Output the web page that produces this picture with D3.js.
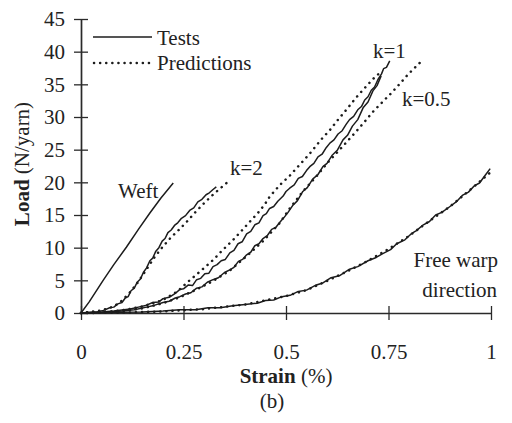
<!DOCTYPE html>
<html>
<head>
<meta charset="utf-8">
<script src="https://cdn.jsdelivr.net/npm/d3@7/dist/d3.min.js"></script>
<style>
  html, body { margin: 0; padding: 0; background: #fff; }
  svg { display: block; }
  text { font-family: "Liberation Serif", "Times New Roman", serif; fill: #222; }
</style>
</head>
<body>
<svg id="chart" width="512" height="423"></svg>
<script>
// Tick labels
const xTicks = [0, 0.25, 0.5, 0.75, 1];
const xTickLabels = ["0", "0.25", "0.5", "0.75", "1"];
const yTicks = [0, 5, 10, 15, 20, 25, 30, 35, 40, 45];

// Series: [strain (%), load (N/yarn)]
const weftTest = [[0,0],[0.02,1.7],[0.054,5.0],[0.08,7.4],[0.111,10.1],[0.14,12.8],[0.168,15.3],[0.195,17.6],[0.225,19.9]];

const k2Test = [[0,0],[0.02,0.1],[0.04,0.2],[0.055,0.4],[0.07,0.8],[0.08,0.9],[0.09,1.4],[0.1,1.6],[0.108,2.3],[0.115,2.5],[0.122,3.4],[0.13,3.8],[0.137,4.7],[0.145,5.2],[0.152,6.2],[0.16,6.9],[0.168,8.0],[0.175,8.4],[0.182,9.4],[0.19,10.0],[0.198,11.0],[0.205,11.4],[0.212,12.3],[0.22,12.7],[0.228,13.4],[0.236,13.8],[0.245,14.5],[0.255,14.9],[0.265,15.7],[0.275,16.1],[0.285,17.0],[0.295,17.4],[0.305,18.1],[0.313,18.4],[0.322,18.9],[0.33,19.3]];
const k2Pred = [[0,0],[0.05,0.4],[0.08,1.0],[0.1,1.9],[0.12,3.2],[0.14,4.8],[0.16,6.7],[0.18,8.6],[0.2,10.2],[0.22,11.6],[0.24,12.8],[0.26,14.1],[0.28,15.5],[0.3,16.8],[0.32,18.0],[0.34,19.1],[0.357,20.0]];

const k1Test = [[0,0],[0.02,0.05],[0.05,0.15],[0.08,0.3],[0.1,0.45],[0.12,0.6],[0.14,0.9],[0.16,1.2],[0.175,1.6],[0.19,1.7],[0.2,2.2],[0.215,2.4],[0.23,3.0],[0.241,3.6],[0.25,3.7],[0.262,4.3],[0.272,4.2],[0.282,5.1],[0.292,5.3],[0.302,6.0],[0.312,6.1],[0.322,7.1],[0.332,7.4],[0.342,8.0],[0.352,8.2],[0.363,9.2],[0.373,9.6],[0.383,10.6],[0.393,10.9],[0.404,12.1],[0.414,12.5],[0.424,13.5],[0.434,13.8],[0.444,14.9],[0.452,15.2],[0.46,16.0],[0.47,16.3],[0.48,17.1],[0.493,17.9],[0.5,18.6],[0.509,19.1],[0.52,19.6],[0.53,20.6],[0.54,20.9],[0.55,21.8],[0.558,22.4],[0.568,22.9],[0.578,23.9],[0.588,24.3],[0.598,25.3],[0.607,26.0],[0.617,26.5],[0.627,27.4],[0.637,27.9],[0.647,28.9],[0.655,29.6],[0.665,30.1],[0.675,31.1],[0.684,31.6],[0.692,32.6],[0.7,33.1],[0.708,34.1],[0.716,34.6],[0.724,35.7],[0.733,36.6],[0.738,37.4],[0.745,37.6],[0.753,38.6]];
const k1Pred = [[0,0],[0.05,0.1],[0.1,0.4],[0.15,1.0],[0.2,2.0],[0.235,3.3],[0.265,5.0],[0.295,6.6],[0.322,8.1],[0.345,9.6],[0.371,11.2],[0.392,12.6],[0.412,14.0],[0.43,15.2],[0.448,16.6],[0.46,17.8],[0.485,19.6],[0.509,21.0],[0.535,22.8],[0.558,24.4],[0.585,26.5],[0.607,28.0],[0.627,29.6],[0.647,31.1],[0.67,32.9],[0.69,34.3],[0.712,35.8],[0.733,37.0]];

const k05Test = [[0,0],[0.03,0.05],[0.06,0.1],[0.1,0.3],[0.13,0.5],[0.16,0.9],[0.18,1.2],[0.2,1.6],[0.215,1.8],[0.23,2.3],[0.241,2.5],[0.255,2.9],[0.268,3.1],[0.282,3.8],[0.295,4.0],[0.308,4.7],[0.322,5.1],[0.335,5.4],[0.35,6.2],[0.363,6.6],[0.373,7.0],[0.384,7.9],[0.394,8.2],[0.404,8.9],[0.414,9.3],[0.424,10.3],[0.434,10.6],[0.444,11.4],[0.455,11.9],[0.465,12.8],[0.475,13.1],[0.485,13.9],[0.495,14.6],[0.505,15.4],[0.517,16.5],[0.528,17.2],[0.541,18.6],[0.552,19.2],[0.565,20.5],[0.578,21.2],[0.59,22.4],[0.6,22.9],[0.612,24.1],[0.625,24.9],[0.639,26.5],[0.65,27.2],[0.662,28.6],[0.675,29.6],[0.688,31.4],[0.7,32.3],[0.712,34.0],[0.722,34.8],[0.732,36.3]];
const k05Pred = [[0,0],[0.05,0.1],[0.1,0.3],[0.15,0.7],[0.2,1.5],[0.241,2.4],[0.282,3.6],[0.322,4.9],[0.363,6.5],[0.404,8.7],[0.444,11.0],[0.485,13.8],[0.509,16.0],[0.541,18.6],[0.574,20.9],[0.6,22.9],[0.631,25.0],[0.66,27.0],[0.688,29.0],[0.712,30.8],[0.74,32.6],[0.753,33.4],[0.775,34.9],[0.793,36.2],[0.81,37.3],[0.828,38.4]];

const freeWarpTest = [[0,0],[0.05,0.05],[0.1,0.1],[0.15,0.15],[0.2,0.3],[0.241,0.5],[0.28,0.5],[0.31,0.8],[0.34,0.8],[0.37,1.1],[0.4,1.3],[0.43,1.5],[0.45,1.9],[0.47,2.0],[0.49,2.5],[0.51,2.7],[0.53,3.3],[0.55,3.5],[0.574,4.3],[0.59,4.6],[0.61,5.4],[0.63,5.7],[0.655,6.7],[0.675,7.1],[0.7,8.0],[0.72,8.5],[0.736,9.1],[0.755,9.7],[0.77,10.6],[0.79,11.2],[0.805,12.1],[0.818,12.6],[0.835,13.5],[0.85,14.0],[0.865,15.0],[0.88,15.4],[0.9,16.3],[0.915,17.0],[0.93,18.0],[0.945,18.5],[0.96,19.5],[0.972,19.9],[0.985,21.0],[0.998,22.1]];
const freeWarpPred = [[0,0],[0.1,0.05],[0.2,0.25],[0.3,0.6],[0.4,1.3],[0.5,2.6],[0.55,3.5],[0.6,4.9],[0.65,6.4],[0.7,8.0],[0.75,9.8],[0.8,11.8],[0.85,14.1],[0.9,16.3],[0.95,18.9],[1.0,21.6]];

const testSeries = [weftTest, k2Test, k1Test, k05Test, freeWarpTest];
const predSeries = [k2Pred, k1Pred, k05Pred, freeWarpPred];

const ink = "#1c1c1c";
const svg = d3.select("#chart");
const x = d3.scaleLinear().domain([0, 1]).range([81, 491]);
const y = d3.scaleLinear().domain([0, 45]).range([313, 19]);

const line = d3.line().x(d => x(d[0])).y(d => y(d[1]));

// Axes: ticks cross the axis line on both sides
const yAxis = svg.append("g").attr("transform", `translate(${x(0)},0)`)
  .call(d3.axisLeft(y).tickValues(yTicks).tickSize(7).tickSizeOuter(0).tickPadding(9));
yAxis.selectAll(".tick line").attr("x2", 7).attr("x1", -7);
const xAxis = svg.append("g").attr("transform", `translate(0,${y(0)})`)
  .call(d3.axisBottom(x).tickValues(xTicks).tickFormat((d, i) => xTickLabels[i]).tickSize(7).tickSizeOuter(0).tickPadding(24));
xAxis.selectAll(".tick line").attr("y1", -7).attr("y2", 7);

[yAxis, xAxis].forEach(g => {
  g.select(".domain").attr("stroke", "#2a2a2a").attr("stroke-width", 1.7);
  g.selectAll(".tick line").attr("stroke", "#2a2a2a").attr("stroke-width", 1.3);
  g.selectAll(".tick text").attr("font-size", 21).attr("fill", "#222")
    .style("font-family", '"Liberation Serif", serif');
});

// Measured curves (solid)
svg.append("g").selectAll("path").data(testSeries).join("path")
  .attr("d", line).attr("fill", "none").attr("stroke", ink)
  .attr("stroke-width", 1.5).attr("stroke-linejoin", "round");

// Predicted curves (dotted)
svg.append("g").selectAll("path").data(predSeries).join("path")
  .attr("d", line).attr("fill", "none").attr("stroke", ink)
  .attr("stroke-width", 2.5).attr("stroke-linecap", "round")
  .attr("stroke-dasharray", "0.1 6");

// Legend
const legend = svg.append("g");
legend.append("line").attr("x1", 93).attr("x2", 152).attr("y1", 37).attr("y2", 37)
  .attr("stroke", ink).attr("stroke-width", 1.5);
legend.append("line").attr("x1", 94).attr("x2", 150).attr("y1", 63).attr("y2", 63)
  .attr("stroke", ink).attr("stroke-width", 2.5).attr("stroke-linecap", "round")
  .attr("stroke-dasharray", "0.1 6");
legend.append("text").attr("x", 157).attr("y", 45).attr("font-size", 21).text("Tests");
legend.append("text").attr("x", 157).attr("y", 70).attr("font-size", 21).text("Predictions");

// Curve annotations
const notes = [
  {t: "Weft", x: 118, y: 198, a: "start"},
  {t: "k=2", x: 230, y: 175, a: "start"},
  {t: "k=1", x: 373, y: 58, a: "start"},
  {t: "k=0.5", x: 402, y: 106, a: "start"},
  {t: "Free warp", x: 498, y: 267, a: "end"},
  {t: "direction", x: 497, y: 297, a: "end"}
];
svg.append("g").selectAll("text").data(notes).join("text")
  .attr("x", d => d.x).attr("y", d => d.y).attr("text-anchor", d => d.a)
  .attr("font-size", 21).text(d => d.t);

// Axis titles
const xt = svg.append("text").attr("x", 286).attr("y", 383).attr("text-anchor", "middle").attr("font-size", 21);
xt.append("tspan").attr("font-weight", "bold").text("Strain");
xt.append("tspan").text(" (%)");

const yt = svg.append("text").attr("transform", "translate(29,164) rotate(-90)")
  .attr("text-anchor", "middle").attr("font-size", 21);
yt.append("tspan").attr("font-weight", "bold").text("Load");
yt.append("tspan").text(" (N/yarn)");

svg.append("text").attr("x", 272).attr("y", 408).attr("text-anchor", "middle")
  .attr("font-size", 21).text("(b)");
</script>
</body>
</html>
